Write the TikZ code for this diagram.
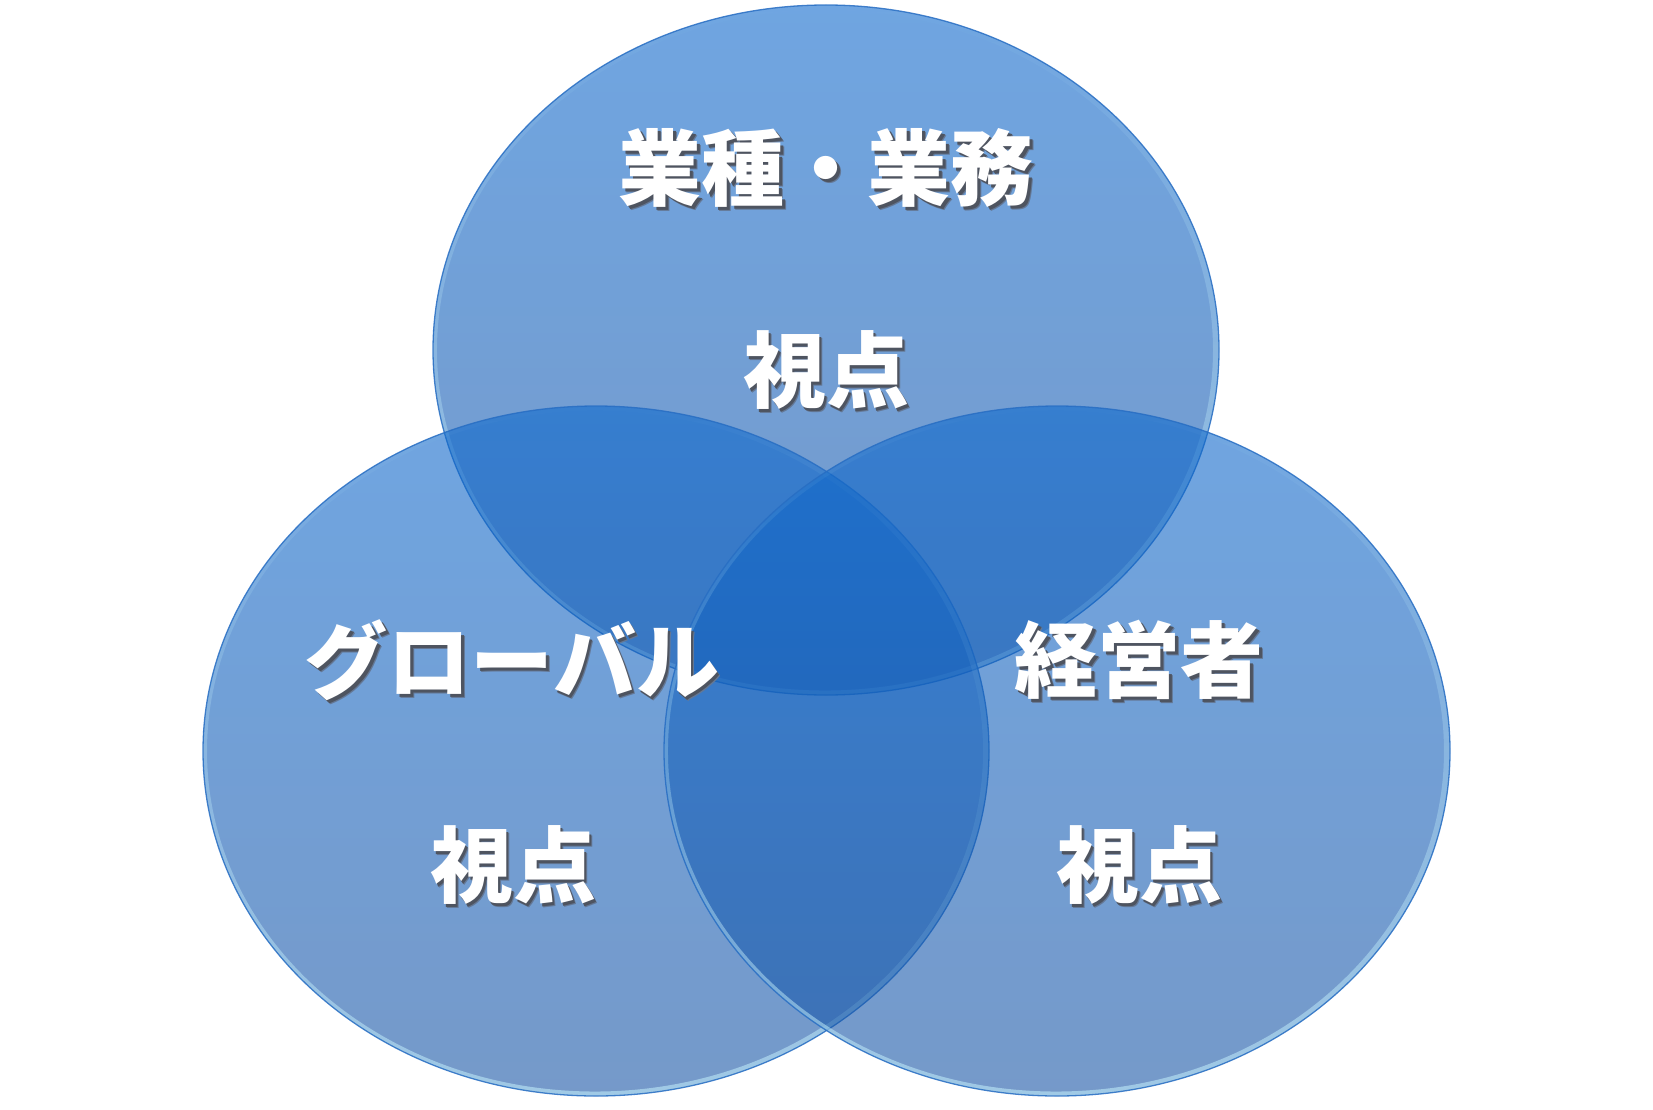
\documentclass[tikz,border=0pt]{standalone}
\usepackage{fontspec}
\newfontfamily\jpfont{Noto Sans CJK JP}
\usepackage{xcolor}
\usetikzlibrary{fadings}

\definecolor{venntop}{RGB}{15,105,205}
\definecolor{vennbot}{RGB}{25,85,165}
\definecolor{vennedge}{RGB}{40,110,195}
\definecolor{vennglow}{RGB}{190,235,250}
\definecolor{shadein}{RGB}{78,84,96}
\definecolor{shadeout}{RGB}{100,120,150}

% white text with a soft dark shadow
\newcommand\shadowtext[1]{%
  \rlap{\raisebox{-4.5pt}{\hspace{3.5pt}\textcolor{shadeout}{#1}}}%
  \rlap{\raisebox{-3pt}{\hspace{2.5pt}\textcolor{shadein}{#1}}}%
  #1}

\begin{document}
\begin{tikzpicture}[
  x=1pt, y=-1pt,
  circ/.style={top color=venntop, bottom color=vennbot, fill opacity=0.6},
  rim/.style={draw=vennedge, draw opacity=0.85, line width=1.3pt},
  glow/.style={draw=vennglow, line width=9pt, opacity=0.6, path fading=north},
  lbl/.style={text=white, font=\jpfont\bfseries\fontsize{83}{90}\selectfont, inner sep=0pt}
]
\useasboundingbox (0,0) rectangle (1653,1110);

% circles
\foreach \cx/\cy in {826/350, 596/751, 1057/751} {
  \path[circ] (\cx,\cy) ellipse [x radius=393, y radius=345];
  \begin{scope}
    \clip (\cx,\cy) ellipse [x radius=393, y radius=345];
    \draw[glow] (\cx,\cy) ellipse [x radius=393, y radius=345];
  \end{scope}
  \draw[rim] (\cx,\cy) ellipse [x radius=393, y radius=345];
}

% labels
\foreach \name/\x/\y/\txt in {gyoshu/826/170/{業種・業務}, tview/826/372/{視点},
    global/512/662/{グローバル}, lview/513/867/{視点},
    keiei/1139/662/{経営者}, rview/1139/867/{視点}} {
  \node[lbl] (\name) at (\x,\y) {\shadowtext{\txt}};
}
\end{tikzpicture}
\end{document}
